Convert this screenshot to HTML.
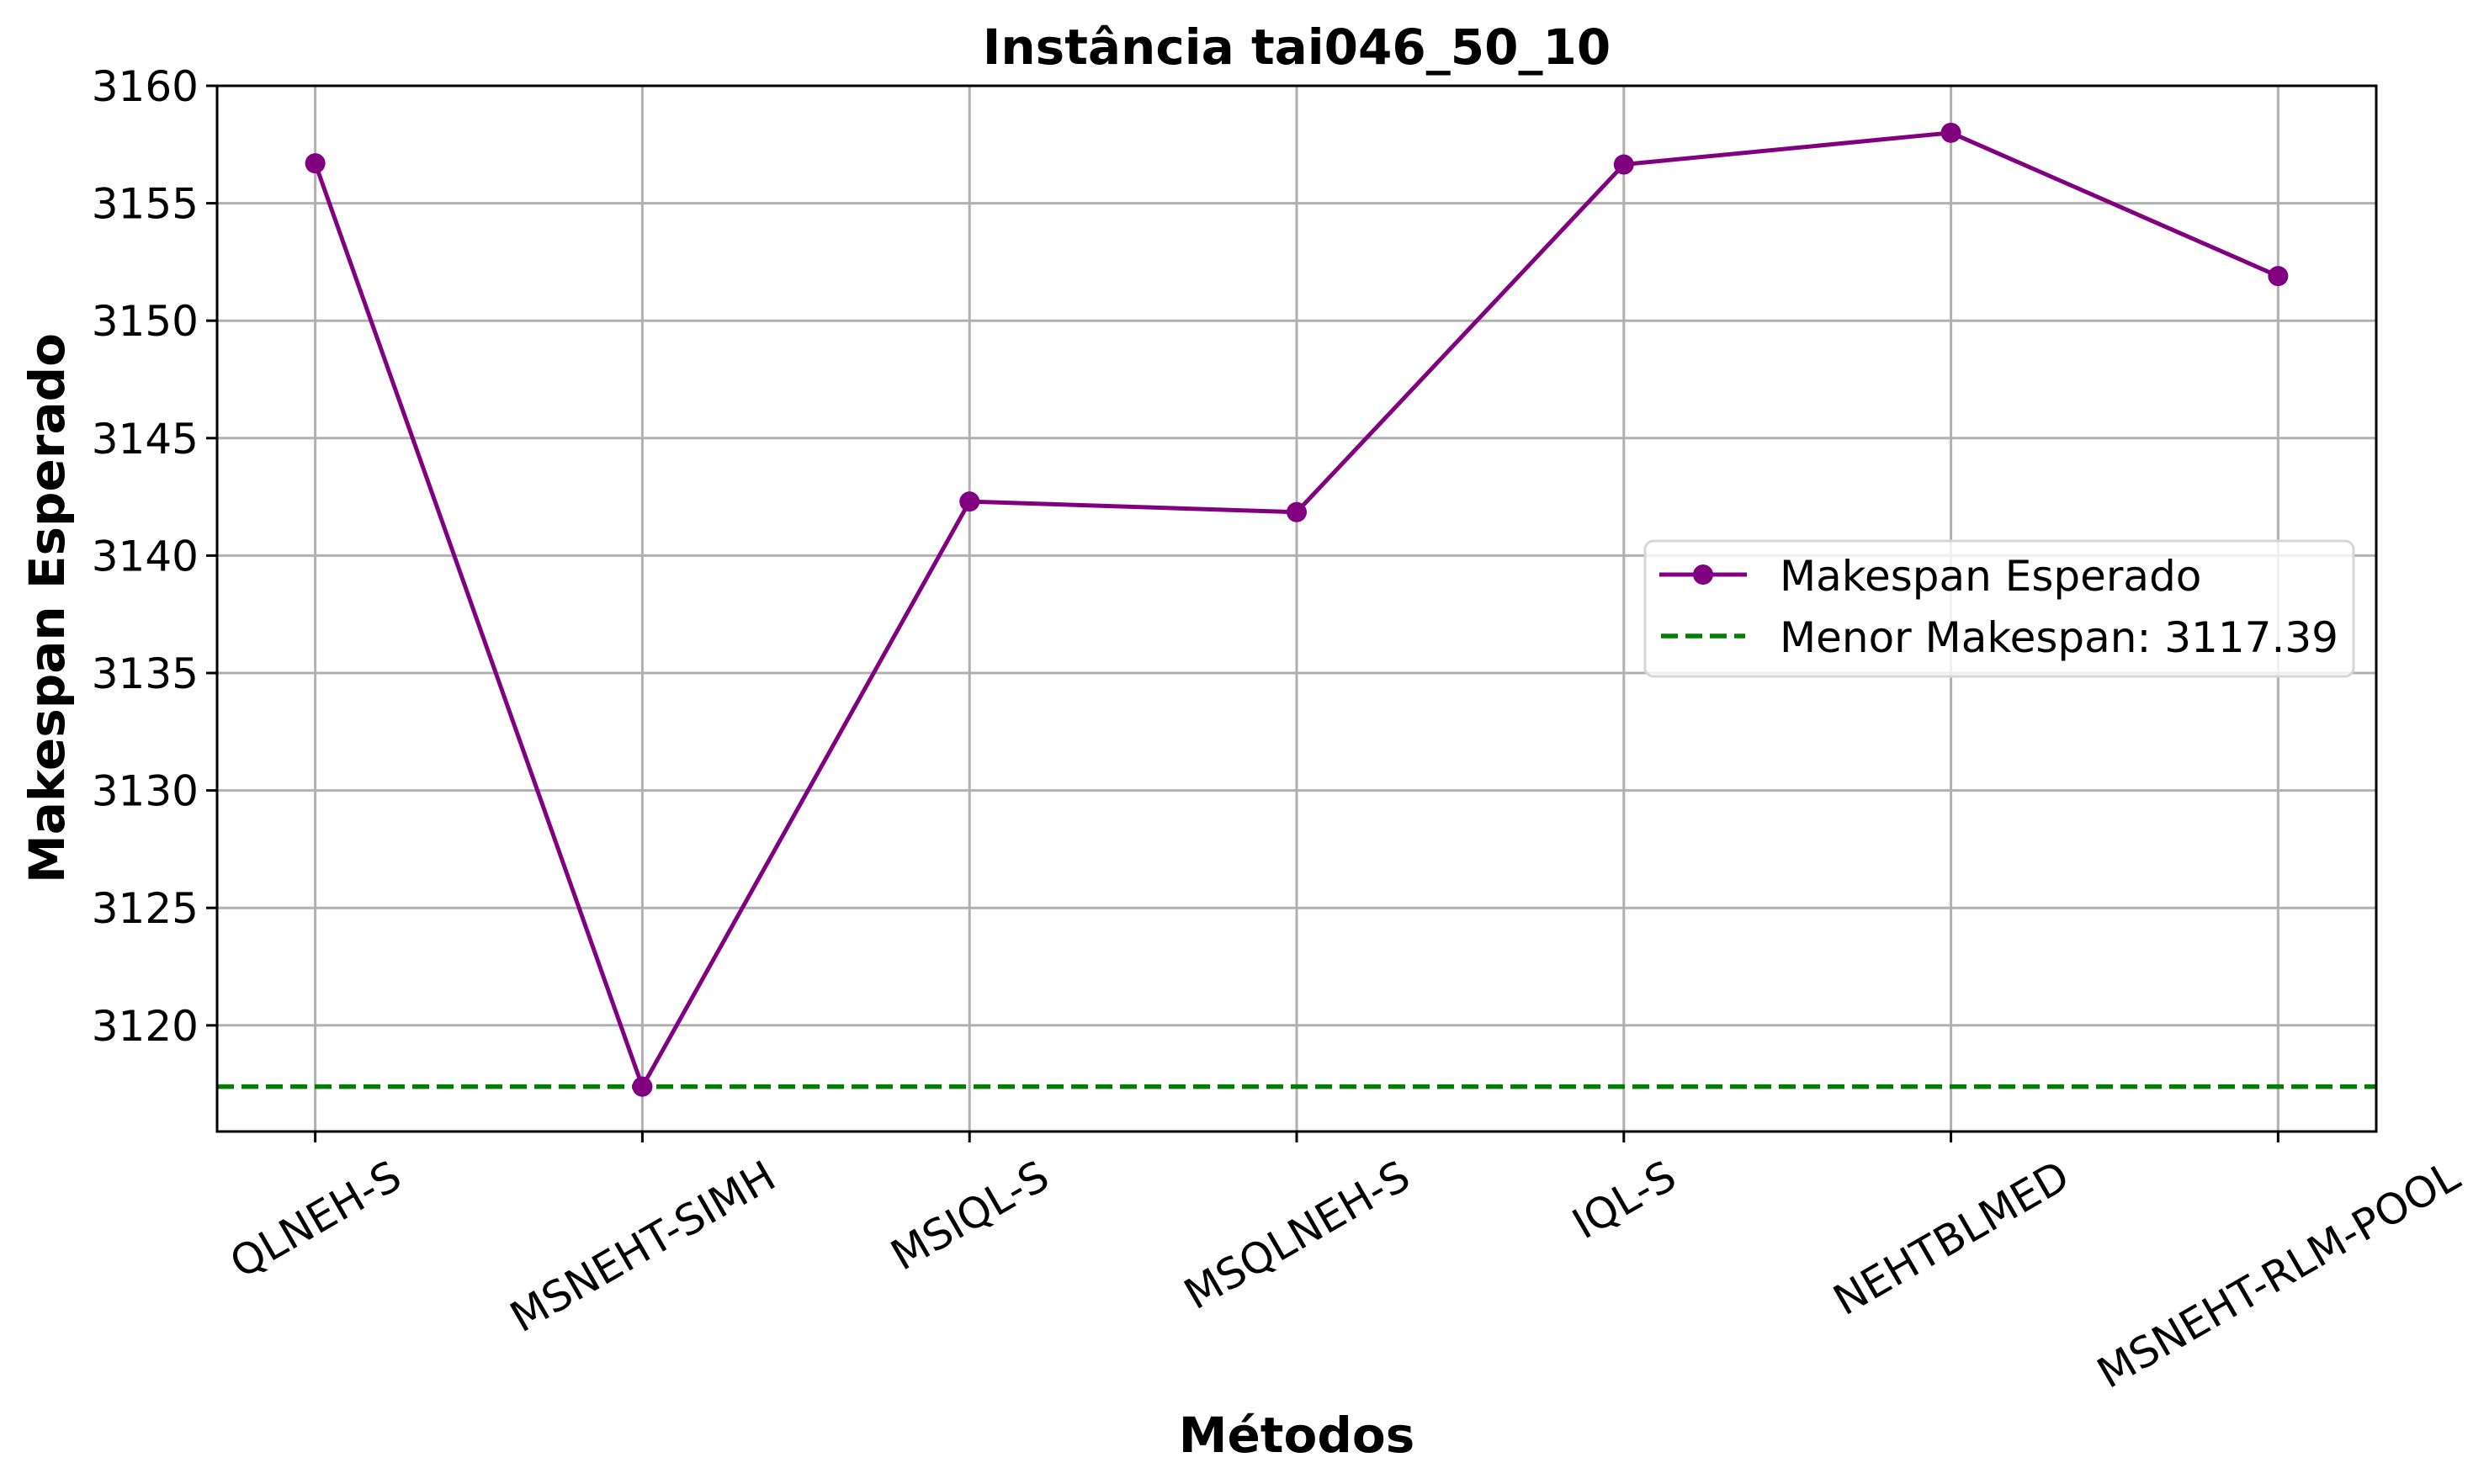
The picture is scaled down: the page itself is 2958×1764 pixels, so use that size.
<!DOCTYPE html>
<html><head><meta charset="utf-8"><style>
html,body{margin:0;padding:0;background:#fff}
svg{display:block;font-family:"DejaVu Sans","Liberation Sans",sans-serif}
</style></head><body>
<svg id="chart" width="2958" height="1764" viewBox="0 0 2958 1764">
<rect width="2958" height="1764" fill="#fff"/>
<g id="grid"></g><g id="series"></g><g id="axes"></g><g id="legend"></g>
</svg>
<script>
const categories = ["QLNEH-S","MSNEHT-SIMH","MSIQL-S","MSQLNEH-S","IQL-S","NEHTBLMED","MSNEHT-RLM-POOL"];
const makespanValues = [3156.7, 3117.39, 3142.3, 3141.85, 3156.65, 3158.0, 3151.9];
const bestMakespan = 3117.39;
const yTicks = [3120,3125,3130,3135,3140,3145,3150,3155,3160];
const titleText = "Instância tai046_50_10";

const NS="http://www.w3.org/2000/svg";
const L=258,R=2824,T=102,B=1345;
const xMin=-0.3,xMax=categories.length-1+0.3,yMin=3115.48,yMax=3160;
const xs=i=>L+(i-xMin)/(xMax-xMin)*(R-L);
const ys=v=>B-(v-yMin)/(yMax-yMin)*(B-T);
function mk(tag,attrs,parent,text){const e=document.createElementNS(NS,tag);for(const k in attrs)e.setAttribute(k,attrs[k]);if(text!==undefined)e.textContent=text;parent.appendChild(e);return e;}
const grid=document.getElementById('grid'),series=document.getElementById('series'),axes=document.getElementById('axes'),legend=document.getElementById('legend');

categories.forEach((c,i)=>{const g=mk('line',{x1:xs(i),x2:xs(i),y1:T,y2:B,stroke:'#b0b0b0','stroke-width':3},grid);

});
yTicks.forEach(v=>{const g=mk('line',{x1:L,x2:R,y1:ys(v),y2:ys(v),stroke:'#b0b0b0','stroke-width':3},grid);

});

const ref=mk('line',{x1:L,x2:R,y1:ys(bestMakespan),y2:ys(bestMakespan),stroke:'#008000','stroke-width':5.5,'stroke-dasharray':'20 9'},series);


const pl=mk('polyline',{points:makespanValues.map((v,i)=>xs(i)+','+ys(v)).join(' '),fill:'none',stroke:'#800080','stroke-width':5,'stroke-linejoin':'round'},series);


makespanValues.forEach((v,i)=>{const p=mk('circle',{cx:xs(i),cy:ys(v),r:12,fill:'#800080'},series);

});

const frame=mk('rect',{x:L,y:T,width:R-L,height:B-T,fill:'none',stroke:'#000','stroke-width':3},axes);


yTicks.forEach(v=>{mk('line',{x1:L-13,x2:L,y1:ys(v),y2:ys(v),stroke:'#000','stroke-width':3},axes);
const t=mk('text',{x:L-22,y:ys(v)+18,'text-anchor':'end','font-size':50},axes,String(v));

});
categories.forEach((c,i)=>{const x=xs(i);mk('line',{x1:x,x2:x,y1:B,y2:B+13,stroke:'#000','stroke-width':3},axes);
const t=mk('text',{x:0,y:0,'text-anchor':'middle','font-size':50},axes,c);


const w=t.getComputedTextLength(),h=50*1.1;
const bh=w*0.5+h*0.866;const cy=B+24+bh/2;
t.setAttribute('transform','translate('+x+','+cy+') rotate(-30) translate(0,'+(50*0.36)+')');});

const title=mk('text',{x:(L+R)/2,y:76,'text-anchor':'middle','font-size':58,'font-weight':'bold'},axes,titleText);


const xl=mk('text',{x:(L+R)/2,y:1726,'text-anchor':'middle','font-size':58,'font-weight':'bold'},axes,'Métodos');


const yl=mk('text',{x:0,y:0,'text-anchor':'middle','font-size':58,'font-weight':'bold',transform:'translate(76,723) rotate(-90)'},axes,'Makespan Esperado');



const lb=mk('rect',{x:1955,y:643,width:842,height:161,rx:10,fill:'#fff','fill-opacity':0.8,stroke:'#d6d6d6','stroke-width':3},legend);


mk('line',{x1:1972,x2:2076,y1:683,y2:683,stroke:'#800080','stroke-width':5},legend);
mk('circle',{cx:2024,cy:683,r:12,fill:'#800080'},legend);
const l1=mk('text',{x:2115,y:702,'font-size':50},legend,'Makespan Esperado');


mk('line',{x1:1974,x2:2074,y1:756,y2:756,stroke:'#008000','stroke-width':5.5,'stroke-dasharray':'20 9'},legend);
const l2=mk('text',{x:2115,y:775,'font-size':50},legend,'Menor Makespan: '+bestMakespan.toFixed(2));


</script>
</body></html>
